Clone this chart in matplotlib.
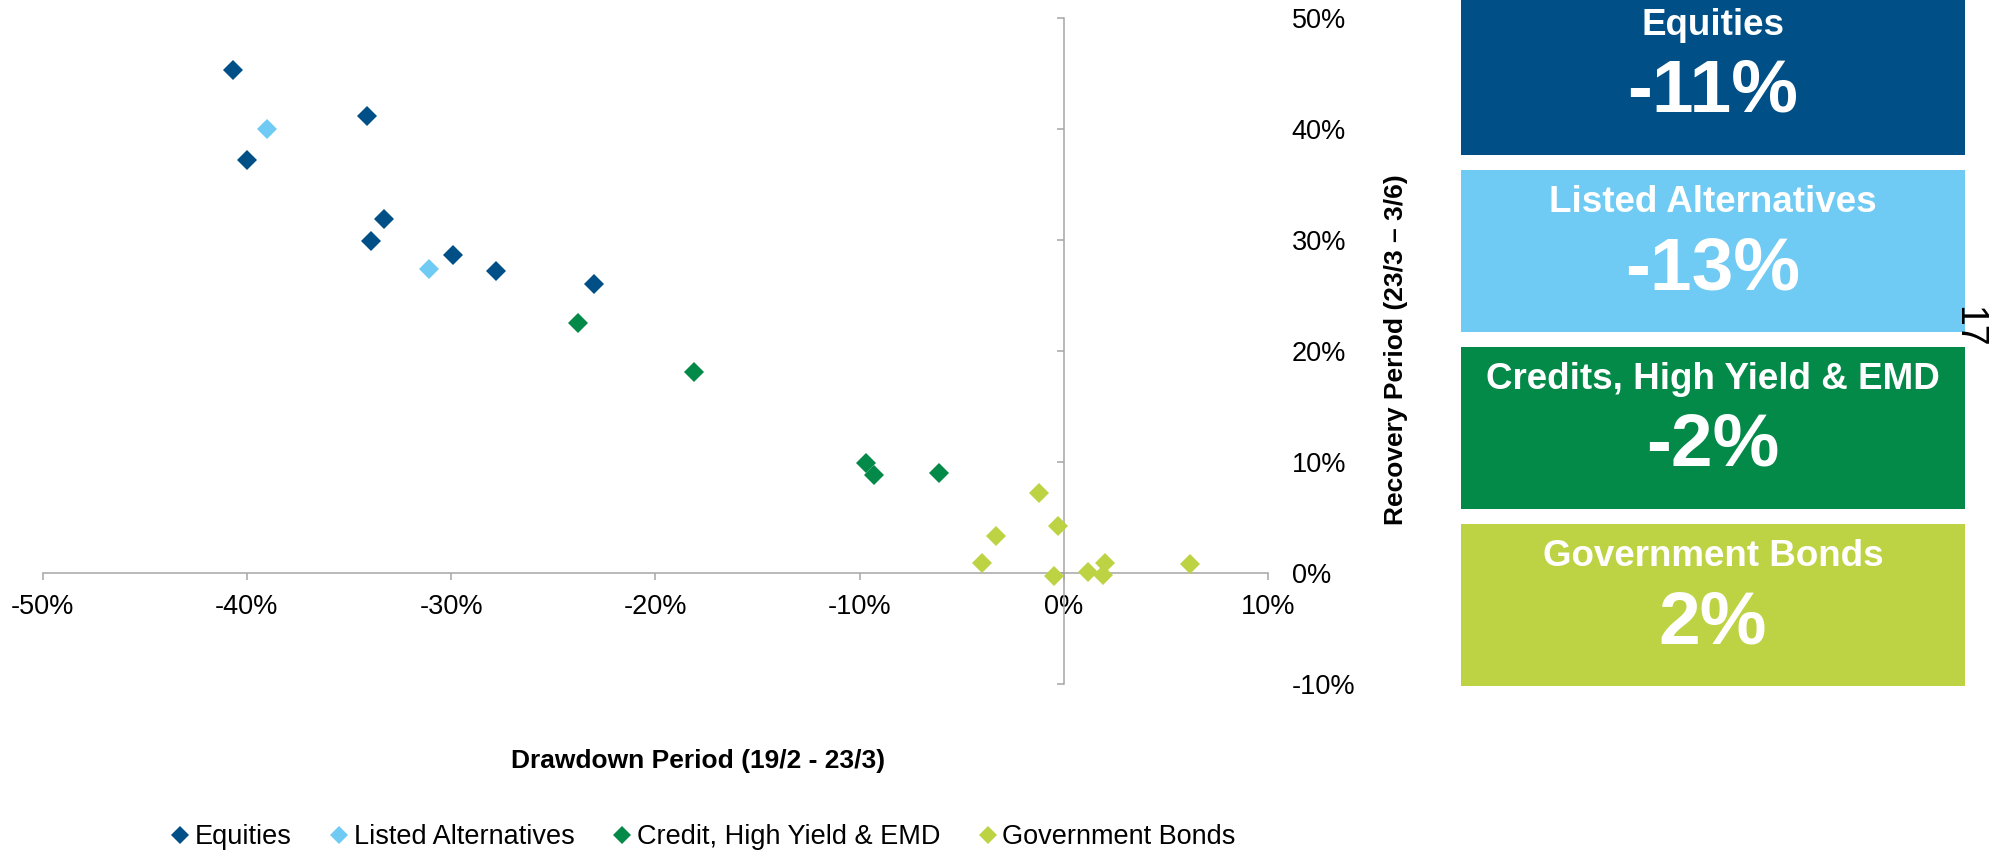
import matplotlib.pyplot as plt
from matplotlib.patches import Rectangle
from matplotlib.ticker import FuncFormatter, MultipleLocator

plt.rcParams['font.family'] = ['Liberation Sans', 'DejaVu Sans']
plt.rcParams['axes.unicode_minus'] = False

# drawdown (x) vs recovery (y) returns, in %
equities_x = [-40.7, -34.1, -40.0, -33.3, -33.9, -29.9, -27.8, -23.0]
equities_y = [45.3, 41.1, 37.2, 31.9, 29.9, 28.6, 27.2, 26.0]
listed_alt_x = [-39.0, -31.1]
listed_alt_y = [40.0, 27.4]
credit_x = [-23.8, -18.1, -9.7, -9.3, -6.1]
credit_y = [22.5, 18.1, 9.9, 8.8, 9.0]
govt_x = [-1.2, -0.3, -3.3, -4.0, -0.5, 1.2, 2.0, 1.9, 6.2]
govt_y = [7.2, 4.2, 3.3, 0.9, -0.3, 0.1, 0.9, -0.2, 0.8]

series_names = ['Equities', 'Listed Alternatives', 'Credit, High Yield & EMD', 'Government Bonds']
colors = ['#004F87', '#70CBF4', '#038948', '#BED344']

# summary boxes on the right
box_titles = ['Equities', 'Listed Alternatives', 'Credits, High Yield & EMD', 'Government Bonds']
box_values = ['-11%', '-13%', '-2%', '2%']

W, H = 1995, 850
fig = plt.figure(figsize=(W / 100, H / 100), dpi=100)
ax = fig.add_axes([42.7 / W, 1 - 684 / H, 1225.3 / W, 666.5 / H])

series = [(equities_x, equities_y), (listed_alt_x, listed_alt_y),
          (credit_x, credit_y), (govt_x, govt_y)]
for (xs, ys), name, c in zip(series, series_names, colors):
    ax.plot(xs, ys, linestyle='none', marker='D', ms=10, mew=0,
            color=c, label=name, zorder=3, clip_on=False)

ax.set_xlim(-50, 10)
ax.set_ylim(-10, 50)
ax.xaxis.set_major_locator(MultipleLocator(10))
ax.yaxis.set_major_locator(MultipleLocator(10))
pct = FuncFormatter(lambda v, p: f'{v:.0f}%')
ax.xaxis.set_major_formatter(pct)
ax.yaxis.set_major_formatter(pct)

for s in ['top', 'right']:
    ax.spines[s].set_visible(False)
ax.spines['left'].set_position(('data', 0))
ax.spines['bottom'].set_position(('data', 0))
for s in ['left', 'bottom']:
    ax.spines[s].set_color('#A6A6A6')
    ax.spines[s].set_linewidth(1.1)

ax.tick_params(axis='x', direction='out', length=5, width=1.1, color='#A6A6A6',
               labelsize=19.5, pad=10.5)
ax.tick_params(axis='y', direction='out', length=5, width=1.1, color='#A6A6A6',
               left=True, right=False, labelleft=False, labelright=True,
               labelsize=19.5, pad=12)

ax.set_xlabel('Drawdown Period (19/2 - 23/3)', fontsize=19, fontweight='bold')
ax.xaxis.set_label_coords((698 - 42.7) / 1225.3, (684 - 761) / 666.5)
ax.xaxis.label.set_va('center')
ax.yaxis.set_label_position('right')
ax.set_ylabel('Recovery Period (23/3 \u2013 3/6)', fontsize=19, fontweight='bold')
ax.yaxis.set_label_coords((1396 - 42.7) / 1225.3, (684 - 350) / 666.5)
ax.yaxis.label.set_va('center')
ax.yaxis.label.set_ha('center')

fig.legend(loc='center', bbox_to_anchor=(703 / W, 1 - 837 / H), ncol=4,
           frameon=False, fontsize=19.5, markerscale=0.9, handlelength=0.7,
           handletextpad=0.2, columnspacing=1.4)

# coloured summary boxes
box_left, box_w, box_h = 1461, 504, 161.5
for i, (title, val, c) in enumerate(zip(box_titles, box_values, colors)):
    top = -7 + i * 177
    fig.patches.append(Rectangle((box_left / W, 1 - (top + box_h) / H), box_w / W, box_h / H,
                                 transform=fig.transFigure, facecolor=c, edgecolor='none'))
    cx = (box_left + box_w / 2) / W
    fig.text(cx, 1 - (top + 32.5) / H, title, color='white', fontsize=26.5,
             fontweight='bold', ha='center', va='center')
    fig.text(cx, 1 - (top + 99.5) / H, val, color='white', fontsize=54,
             fontweight='bold', ha='center', va='center')

fig.text(1968 / W, 1 - 327 / H, '17', fontsize=27, rotation=-90,
         ha='center', va='center', zorder=5)

fig.savefig('out.png', dpi=100)
